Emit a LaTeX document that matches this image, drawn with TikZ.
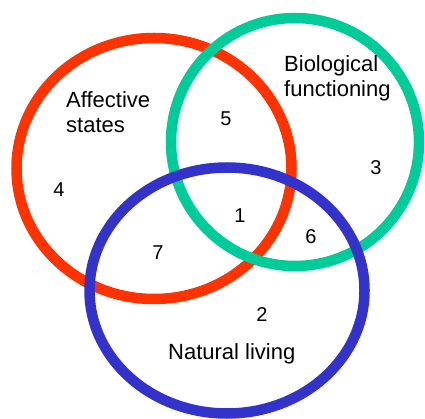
\documentclass[tikz,border=0pt]{standalone}
\usepackage{fontspec}
\setmainfont{Liberation Sans}
\definecolor{affred}{HTML}{FF3300}
\definecolor{biogreen}{HTML}{00CC99}
\definecolor{natblue}{HTML}{3333CC}

\begin{document}
\begin{tikzpicture}[x=1pt,y=-1pt,
	ring/.style={line width=10.5pt},
	lbl/.style={font=\fontsize{22}{25}\selectfont,inner sep=0pt},
	num/.style={font=\fontsize{20}{24}\selectfont,inner sep=0pt}]
	\useasboundingbox (0,0) rectangle (425,419);
	\draw[ring,affred] (154,168.5) ellipse [x radius=137.5, y radius=130.5];
	\draw[ring,biogreen] (295,142) ellipse [x radius=124, y radius=124];
	\draw[ring,natblue] (227,290.5) ellipse [x radius=137.5, y radius=123];
	\node[lbl,align=left,anchor=north west] (aff) at (66,91.5) {Affective\\states};
	\node[lbl,align=left,anchor=north west] (bio) at (284,55.5) {Biological\\functioning};
	\node[lbl,anchor=north west] (nat) at (168,343.5) {Natural living};
	\node[num] (n1) at (240,216) {1};
	\node[num] (n2) at (262,315) {2};
	\node[num] (n3) at (376,168) {3};
	\node[num] (n4) at (59,190) {4};
	\node[num] (n5) at (226,119) {5};
	\node[num] (n6) at (311,237) {6};
	\node[num] (n7) at (158,253) {7};
\end{tikzpicture}
\end{document}
